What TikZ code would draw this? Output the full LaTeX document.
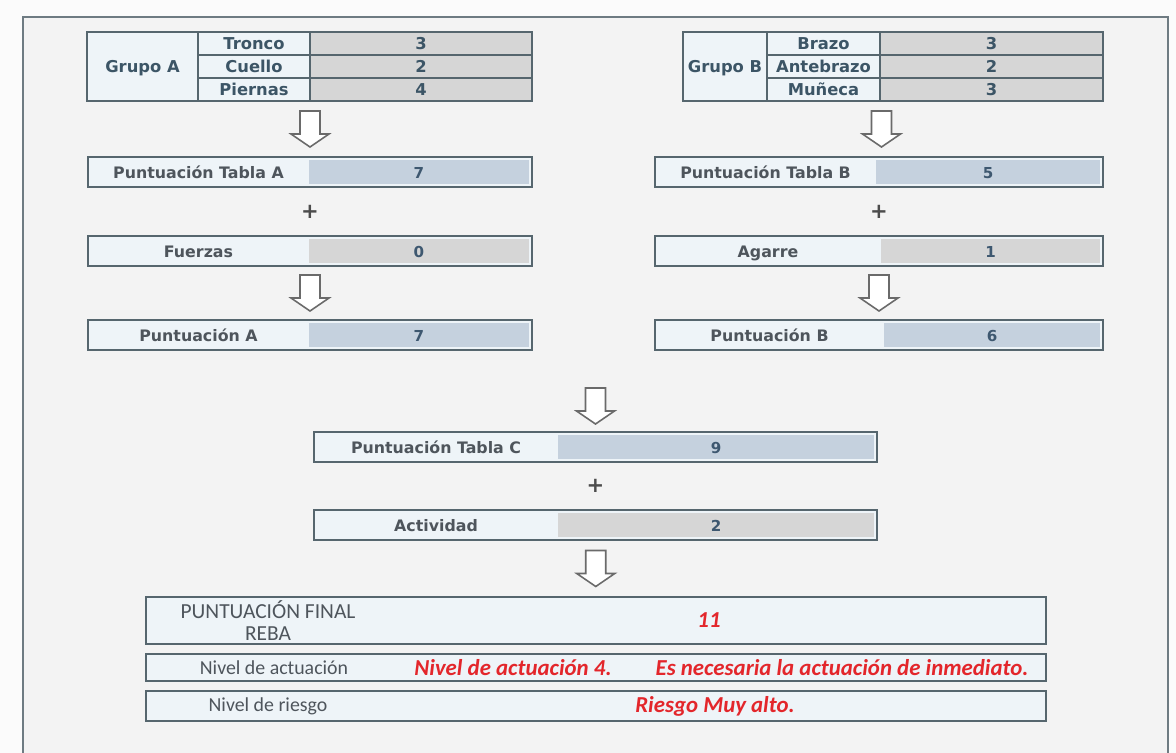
\documentclass[tikz,border=0pt]{standalone}
\usepackage{fontspec}
\setmainfont{DejaVu Sans}
\newfontfamily\condfont{Carlito}
\usetikzlibrary{positioning,calc}
\definecolor{fondo}{HTML}{F3F3F3}
\definecolor{afuera}{HTML}{FBFBFB}
\definecolor{marcoC}{HTML}{6E7B82}
\definecolor{borde}{HTML}{56666E}
\definecolor{cajaC}{HTML}{EEF4F8}
\definecolor{grisC}{HTML}{D6D6D6}
\definecolor{azulC}{HTML}{C5D1DE}
\definecolor{tabtexto}{HTML}{3C5566}
\definecolor{etiqtexto}{HTML}{4E555C}
\definecolor{valtexto}{HTML}{3E5870}
\definecolor{rojoC}{HTML}{E3262B}
\definecolor{flechaC}{HTML}{6A6A6A}
\newcommand{\pix}{0.02cm}
\tikzset{
  caja/.style={draw=borde, line width=1.1pt, fill=cajaC, inner sep=0pt, outer sep=0pt,
               minimum height=30*\pix, anchor=north west},
  celda/.style={draw=borde, line width=1pt, fill=cajaC, inner sep=0pt, outer sep=0pt,
                text=tabtexto, text height=1.6ex, text depth=0.3ex,
                font=\fontsize{9.3}{10}\selectfont\bfseries, anchor=north west},
  valor/.style={inner sep=0pt, outer sep=0pt, minimum height=24*\pix, anchor=east,
                text=valtexto, text height=1.6ex, text depth=0.3ex,
                font=\fontsize{8.6}{9}\selectfont\bfseries},
  etiq/.style={text=etiqtexto, text height=1.6ex, text depth=0.3ex,
               font=\fontsize{9}{10}\selectfont\bfseries},
  etiqfin/.style={text=etiqtexto, align=center, font=\condfont\fontsize{11.3}{12.5}\selectfont},
  rojo/.style={text=rojoC, font=\condfont\bfseries\itshape\fontsize{13}{13}\selectfont},
  mas/.style={text=black!70, font=\fontsize{12}{12}\selectfont\bfseries},
  flecha/.pic={
    \draw[draw=flechaC, fill=white, line width=0.9pt, line join=miter]
      (-10,-18) -- (10,-18) -- (10,5) -- (19,5) -- (0,18) -- (-19,5) -- (-10,5) -- cycle;
  },
}

\begin{document}
\begin{tikzpicture}[x=\pix, y=-\pix]
  \useasboundingbox (0,0) rectangle (1176,753);
  \clip (0,0) rectangle (1176,753);
  \fill[afuera] (0,0) rectangle (1176,753);
  \draw[marcoC, fill=fondo, line width=1pt] (23,17) rectangle (1168,780);

  % Grupo A
  \node[celda, minimum width=111*\pix, minimum height=69*\pix] (grA) at (87,32) {Grupo A};
  \node[celda, minimum width=112*\pix, minimum height=23*\pix] (tro) at (grA.north east) {Tronco};
  \node[celda, minimum width=112*\pix, minimum height=23*\pix] (cue) at (tro.south west) {Cuello};
  \node[celda, minimum width=112*\pix, minimum height=23*\pix] (pie) at (cue.south west) {Piernas};
  \node[celda, fill=grisC, minimum width=222*\pix, minimum height=23*\pix] (troV) at (tro.north east) {3};
  \node[celda, fill=grisC, minimum width=222*\pix, minimum height=23*\pix] (cueV) at (cue.north east) {2};
  \node[celda, fill=grisC, minimum width=222*\pix, minimum height=23*\pix] (pieV) at (pie.north east) {4};

  % Grupo B
  \node[celda, minimum width=84*\pix, minimum height=69*\pix] (grB) at (683,32) {Grupo B};
  \node[celda, minimum width=113*\pix, minimum height=23*\pix] (bra) at (grB.north east) {Brazo};
  \node[celda, minimum width=113*\pix, minimum height=23*\pix] (ant) at (bra.south west) {Antebrazo};
  \node[celda, minimum width=113*\pix, minimum height=23*\pix] (mun) at (ant.south west) {Muñeca};
  \node[celda, fill=grisC, minimum width=223*\pix, minimum height=23*\pix] (braV) at (bra.north east) {3};
  \node[celda, fill=grisC, minimum width=223*\pix, minimum height=23*\pix] (antV) at (ant.north east) {2};
  \node[celda, fill=grisC, minimum width=223*\pix, minimum height=23*\pix] (munV) at (mun.north east) {3};

  % columna A
  \node[caja, minimum width=444*\pix] (ptA) at (88,157) {};
  \node[valor, fill=azulC, minimum width=220*\pix] (ptAv) at ([xshift=-3*\pix]ptA.east) {7};
  \node[etiq] at ($(ptA.west)!.5!(ptAv.west)$) {Puntuación Tabla A};
  \node[caja, minimum width=444*\pix] (fue) at (88,236) {};
  \node[valor, fill=grisC, minimum width=220*\pix] (fuev) at ([xshift=-3*\pix]fue.east) {0};
  \node[etiq] at ($(fue.west)!.5!(fuev.west)$) {Fuerzas};
  \node[caja, minimum width=444*\pix] (puA) at (88,320) {};
  \node[valor, fill=azulC, minimum width=220*\pix] (puAv) at ([xshift=-3*\pix]puA.east) {7};
  \node[etiq] at ($(puA.west)!.5!(puAv.west)$) {Puntuación A};
  \node[mas] (masA) at ($(ptA.south)!.5!(fue.north)$) {+};

  % columna B
  \node[caja, minimum width=448*\pix] (ptB) at (655,157) {};
  \node[valor, fill=azulC, minimum width=224*\pix] (ptBv) at ([xshift=-3*\pix]ptB.east) {5};
  \node[etiq] at ($(ptB.west)!.5!(ptBv.west)$) {Puntuación Tabla B};
  \node[caja, minimum width=448*\pix] (aga) at (655,236) {};
  \node[valor, fill=grisC, minimum width=219*\pix] (agav) at ([xshift=-3*\pix]aga.east) {1};
  \node[etiq] at ($(aga.west)!.5!(agav.west)$) {Agarre};
  \node[caja, minimum width=448*\pix] (puB) at (655,320) {};
  \node[valor, fill=azulC, minimum width=216*\pix] (puBv) at ([xshift=-3*\pix]puB.east) {6};
  \node[etiq] at ($(puB.west)!.5!(puBv.west)$) {Puntuación B};
  \node[mas] (masB) at ($(ptB.south)!.5!(aga.north)$) {+};

  % tabla C
  \node[caja, minimum width=563*\pix] (ptC) at (314,432) {};
  \node[valor, fill=azulC, minimum width=316*\pix] (ptCv) at ([xshift=-3*\pix]ptC.east) {9};
  \node[etiq] at ($(ptC.west)!.5!(ptCv.west)$) {Puntuación Tabla C};
  \node[caja, minimum width=563*\pix] (act) at (314,510) {};
  \node[valor, fill=grisC, minimum width=316*\pix] (actv) at ([xshift=-3*\pix]act.east) {2};
  \node[etiq] at ($(act.west)!.5!(actv.west)$) {Actividad};
  \node[mas] (masC) at ($(ptC.south)!.5!(act.north)$) {+};

  % resultado
  \node[caja, minimum width=900*\pix, minimum height=47*\pix] (fin) at (146,597) {};
  \node[etiqfin, font=\condfont\fontsize{12.2}{13}\selectfont] at ($(fin.west)+(122,0)$) {PUNTUACIÓN FINAL\\REBA};
  \node[rojo] at ($(fin.west)+(563,0)$) {11};
  \node[caja, minimum width=900*\pix, minimum height=27*\pix] (niv) at (146,654) {};
  \node[etiqfin] at ($(niv.west)+(128,0)$) {Nivel de actuación};
  \node[rojo] at ($(niv.west)+(367,0)$) {Nivel de actuación 4.};
  \node[rojo] at ($(niv.west)+(696,0)$) {Es necesaria la actuación de inmediato.};
  \node[caja, minimum width=900*\pix, minimum height=30*\pix] (rie) at (146,691) {};
  \node[etiqfin] at ($(rie.west)+(122,0)$) {Nivel de riesgo};
  \node[rojo] at ($(rie.west)+(569,0)$) {Riesgo Muy alto.};

  % flechas
  \pic at ($(pieV.south west)!.5!(ptA.north)$) {flecha};
  \pic at ($(fue.south)!.5!(puA.north)$) {flecha};
  \pic at ($(munV.south west)!.5!(ptB.north)+(2,0)$) {flecha};
  \pic at ($(aga.south)!.5!(puB.north)$) {flecha};
  \pic at ($(ptC.north)+(0,-26)$) {flecha};
  \pic at ($(act.south)!.5!(fin.north)$) {flecha};
\end{tikzpicture}
\end{document}
